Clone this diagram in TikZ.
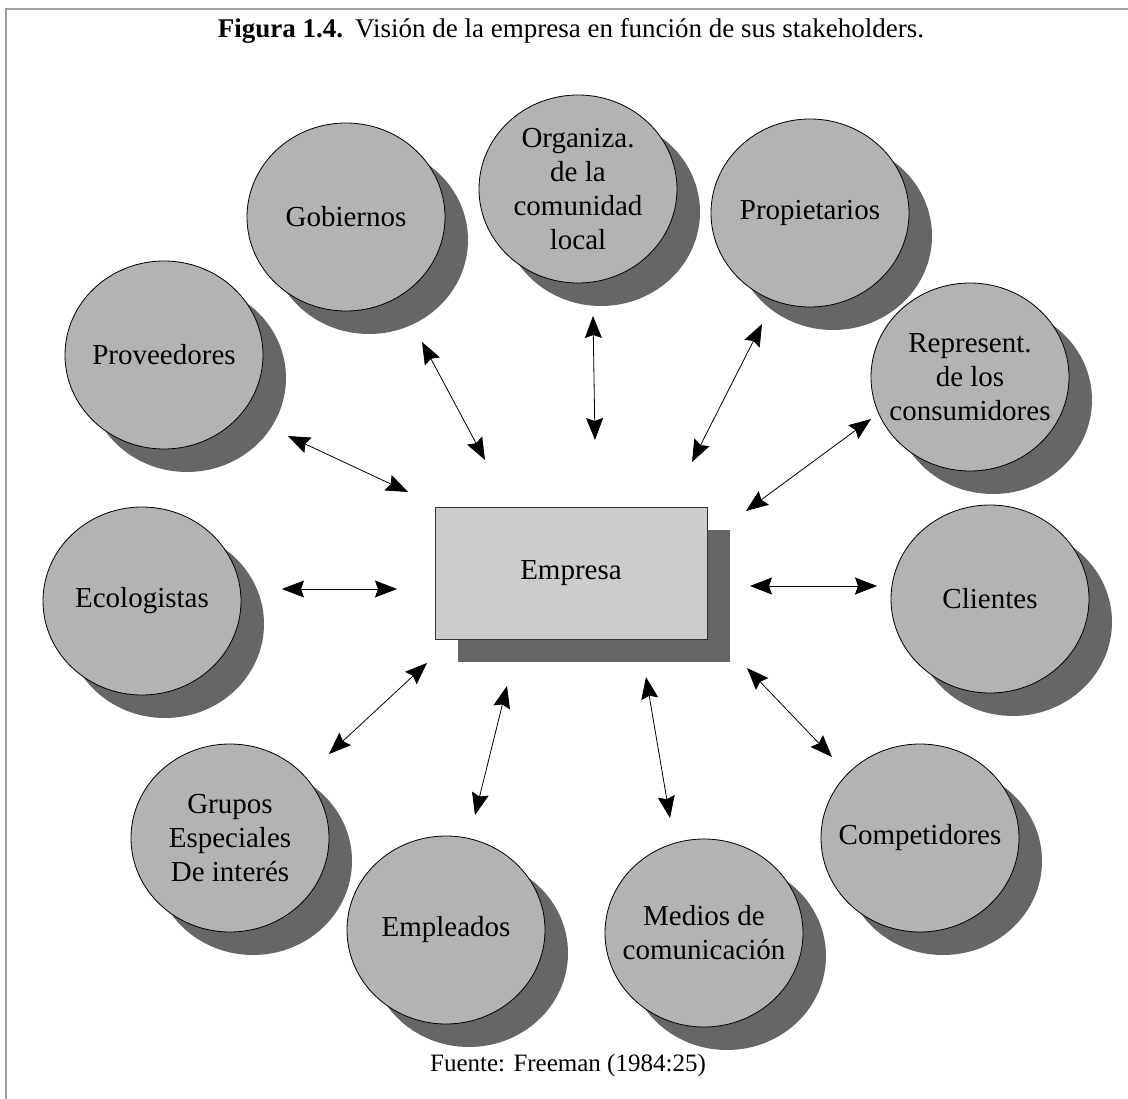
\documentclass[tikz,border=0pt]{standalone}
\usepackage{fontspec}
\setmainfont{Liberation Serif}
\usetikzlibrary{shapes.geometric,arrows.meta,shadows}
\definecolor{discfill}{HTML}{B3B3B3}
\definecolor{shadefill}{HTML}{666666}
\definecolor{boxfill}{HTML}{CCCCCC}
\definecolor{boxline}{HTML}{333333}
\definecolor{framegray}{HTML}{A0A0A0}
\begin{document}
\begin{tikzpicture}[x=1pt,y=-1pt,
  deepshadow/.style={drop shadow={shadow xshift=23pt, shadow yshift=-23pt,
      fill=shadefill, opacity=1}},
  % fixed-size disc; the caption sits on it as a centred label so the
  % text never stretches the ellipse
  stake/.style={ellipse, draw=black, line width=0.8pt, fill=discfill,
      minimum width=198pt, minimum height=188pt, inner sep=0pt, deepshadow,
      label={[align=center, inner sep=0pt,
               font=\fontsize{29}{34}\selectfont]center:#1}},
  firm/.style={rectangle, draw=boxline, line width=1pt, fill=boxfill,
      minimum width=272pt, minimum height=132pt, inner sep=0pt,
      font=\fontsize{29}{34}\selectfont, deepshadow},
  link/.style={line width=0.8pt,
      {Stealth[length=22pt,width=17pt,inset=3pt]}-{Stealth[length=22pt,width=17pt,inset=3pt]}},
  framerule/.style={draw=framegray, line width=1.5pt}]
\useasboundingbox (0,0) rectangle (1128,1099);
\fill[white] (0,0) rectangle (1128,1099);
% page frame (top and left rules)
\draw[framerule] (6,1099) -- (6,9) -- (1128,9);

% caption and source
\node[anchor=base, inner sep=0pt, font=\fontsize{27}{32}\selectfont] (title) at (571,38)
  {\textbf{Figura 1.4.}\hspace{0.45em}Visión de la empresa en función de sus stakeholders.};
\node[anchor=base, inner sep=0pt, font=\fontsize{25}{30}\selectfont] (source) at (568,1071)
  {Fuente: Freeman (1984:25)};

% central firm
\node[firm] (empresa) at (571,573) {Empresa};

% stakeholders
\node[stake={Proveedores}] (prov) at (164,355) {};
\node[stake={Gobiernos}] (gob)  at (346,217) {};
\node[stake={Organiza.\\de la\\comunidad\\local}] (org) at (578,189) {};
\node[stake={Propietarios}] (prop) at (810,213) {};
\node[stake={Represent.\\de los\\consumidores}] (rep) at (970,377) {};
\node[stake={Ecologistas}] (eco)  at (142,601) {};
\node[stake={Clientes}] (cli)  at (990,599) {};
\node[stake={Competidores}] (comp) at (920,838) {};
\node[stake={Grupos\\Especiales\\De interés}] (gru) at (230,838) {};
\node[stake={Empleados}] (empl) at (446,930) {};
\node[stake={Medios de\\comunicación}] (med) at (704,933) {};

% connector end points
\coordinate (prov-s) at (288,436);  \coordinate (prov-e) at (408,492);
\coordinate (gob-s)  at (422,342);  \coordinate (gob-e)  at (485,460);
\coordinate (org-s)  at (593,316);  \coordinate (org-e)  at (595,440);
\coordinate (prop-s) at (762,324);  \coordinate (prop-e) at (692,462);
\coordinate (rep-s)  at (871,419);  \coordinate (rep-e)  at (746,511);
\coordinate (eco-s)  at (282,589);  \coordinate (eco-e)  at (397,589);
\coordinate (cli-s)  at (877,586);  \coordinate (cli-e)  at (750,586);
\coordinate (gru-s)  at (329,754);  \coordinate (gru-e)  at (427,663);
\coordinate (empl-s) at (475,815);  \coordinate (empl-e) at (507,686);
\coordinate (med-s)  at (670,818);  \coordinate (med-e)  at (646,677);
\coordinate (comp-s) at (832,757);  \coordinate (comp-e) at (747,668);

% two-way relations
\foreach \k in {prov,gob,org,prop,rep,eco,cli,gru,empl,med,comp}
  \draw[link] (\k-s) -- (\k-e);
\end{tikzpicture}
\end{document}
